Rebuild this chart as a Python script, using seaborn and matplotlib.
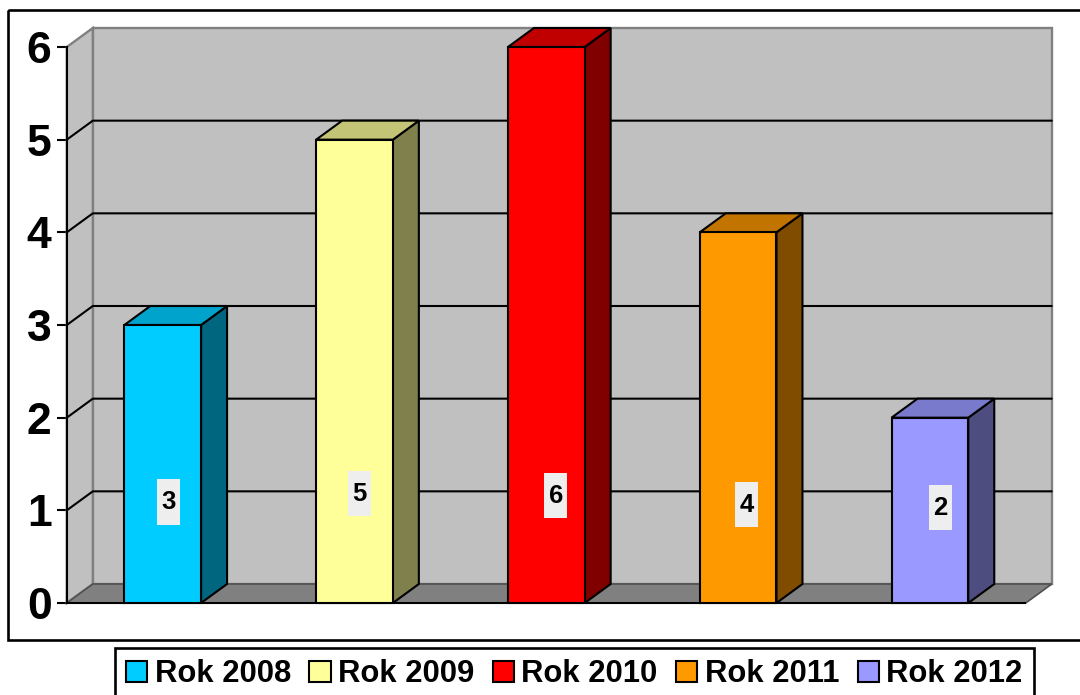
import matplotlib
matplotlib.use("Agg")
import matplotlib.pyplot as plt
from matplotlib.patches import Rectangle, Polygon
import pandas as pd
import seaborn as sns

years = ["Rok 2008", "Rok 2009", "Rok 2010", "Rok 2011", "Rok 2012"]
values = [3, 5, 6, 4, 2]
y_ticks = [0, 1, 2, 3, 4, 5, 6]

front_colors = ["#00ccff", "#ffff99", "#ff0000", "#ff9900", "#9999ff"]
side_colors = ["#006680", "#80804d", "#800000", "#804d00", "#4d4d80"]
top_colors = ["#00a3cc", "#c4c477", "#c00000", "#c27400", "#7a7acc"]

# label placement (offset from bar centre in category units, height in value units)
label_dx = [0.03, 0.025, 0.05, 0.045, 0.055]
label_y = [1.09, 1.18, 1.16, 1.06, 1.03]

W, H = 1080, 695
L, R, T, B = 66.8, 1025.8, 47, 603      # front plane in pixels
DEPTH_X = 26 / ((R - L) / 5)            # depth in category units
DEPTH_Y = 19 / ((B - T) / 6)            # depth in value units
WALL = "#c0c0c0"
EDGE = "#808080"
LINE = 1.5

sns.set_theme(style="white")
plt.rcParams["font.family"] = ["Liberation Sans", "DejaVu Sans"]
plt.rcParams["font.weight"] = "bold"
plt.rcParams["text.color"] = "black"

fig = plt.figure(figsize=(W / 100, H / 100), dpi=100, facecolor="white")

# outer chart frame
bg = fig.add_axes([0, 0, 1, 1], zorder=0)
bg.set_xlim(0, W)
bg.set_ylim(H, 0)
bg.axis("off")
bg.add_patch(Rectangle((7.5, 9.5), W, 630.5, fill=False, ec="black", lw=1.9, clip_on=True))

ax = fig.add_axes([L / W, 1 - B / H, (R - L) / W, (B - T) / H], zorder=1)
ax.patch.set_alpha(0)

df = pd.DataFrame({"year": years, "value": values})
sns.barplot(data=df, x="year", y="value", hue="year", hue_order=years,
            palette=front_colors, dodge=False, width=0.40, saturation=1,
            edgecolor="black", linewidth=LINE, legend=True, ax=ax, zorder=3)

x0, x1 = -0.5, 4.5
ax.set_xlim(x0, x1)
ax.set_ylim(0, 6)
ymax = max(y_ticks)

# back wall, side wall and floor
ax.add_patch(Polygon([(x0 + DEPTH_X, DEPTH_Y), (x1 + DEPTH_X, DEPTH_Y),
                      (x1 + DEPTH_X, ymax + DEPTH_Y), (x0 + DEPTH_X, ymax + DEPTH_Y)],
                     fc=WALL, ec=EDGE, lw=1.7, clip_on=False, zorder=0.5))
ax.add_patch(Polygon([(x0, 0), (x0 + DEPTH_X, DEPTH_Y),
                      (x0 + DEPTH_X, ymax + DEPTH_Y), (x0, ymax)],
                     fc=WALL, ec=EDGE, lw=1.7, clip_on=False, zorder=0.6))
ax.add_patch(Polygon([(x0, 0), (x1, 0), (x1 + DEPTH_X, DEPTH_Y), (x0 + DEPTH_X, DEPTH_Y)],
                     fc="#808080", ec="#505050", lw=1.2, clip_on=False, zorder=0.7))
ax.plot([x0, x1], [0, 0], color="black", lw=LINE, clip_on=False, zorder=2.5,
        solid_capstyle="butt")

# gridlines on the back and side wall
for t in y_ticks[1:-1]:
    ax.plot([x0, x0 + DEPTH_X, x1 + DEPTH_X], [t, t + DEPTH_Y, t + DEPTH_Y],
            color="black", lw=LINE, clip_on=False, zorder=0.9)

# bar sides, tops and labels
for i, cont in enumerate(ax.containers):
    bar = [b for b in cont if b.get_height() > 0][0]
    bx0, bw, h = bar.get_x(), bar.get_width(), bar.get_height()
    bx1 = bx0 + bw
    bar.set_clip_on(False)
    ax.add_patch(Polygon([(bx1, 0), (bx1 + DEPTH_X, DEPTH_Y), (bx1 + DEPTH_X, h + DEPTH_Y), (bx1, h)],
                         fc=side_colors[i], ec="black", lw=LINE, clip_on=False, zorder=2.9))
    ax.add_patch(Polygon([(bx0, h), (bx1, h), (bx1 + DEPTH_X, h + DEPTH_Y), (bx0 + DEPTH_X, h + DEPTH_Y)],
                         fc=top_colors[i], ec="black", lw=LINE, clip_on=False, zorder=2.9))
    cx = bx0 + bw / 2 + label_dx[i]
    box_w, box_h = 0.12, 0.486
    ax.add_patch(Rectangle((cx - box_w / 2, label_y[i] - box_h / 2), box_w, box_h,
                           fc="#eeeeee", ec="none", zorder=4))
    ax.text(cx, label_y[i], str(values[i]), ha="center", va="center",
            fontsize=18.5, fontweight="bold", color="black", zorder=5)

# axes
for side in ("top", "right", "bottom"):
    ax.spines[side].set_visible(False)
ax.spines["left"].set_visible(True)
ax.spines["left"].set_color("black")
ax.spines["left"].set_linewidth(LINE)
ax.spines["left"].set_zorder(1.5)
ax.set_xlabel("")
ax.set_ylabel("")
ax.set_xticks([])
ax.set_yticks(y_ticks)
ax.set_yticklabels([str(t) for t in y_ticks], fontsize=32, fontweight="bold", color="black")
ax.tick_params(axis="y", left=True, length=7.2, width=LINE, color="black", pad=3.8)

# legend
leg = ax.legend(loc="upper left", bbox_to_anchor=(115 / W, 1 - 648 / H),
                bbox_transform=fig.transFigure, ncol=5, frameon=True, fancybox=False,
                edgecolor="black", facecolor="white", framealpha=1,
                prop={"family": "Liberation Sans", "weight": "bold", "size": 22.3},
                borderpad=0.36, borderaxespad=0, handlelength=0.68, handleheight=0.68,
                handletextpad=0.24, columnspacing=0.6, labelspacing=0)
leg.get_frame().set_linewidth(1.9)
leg.set_zorder(10)
for t in leg.get_texts():
    t.set_color("black")
for h in leg.get_patches():
    h.set_edgecolor("black")
    h.set_linewidth(LINE)

fig.savefig("out.png", dpi=100)
